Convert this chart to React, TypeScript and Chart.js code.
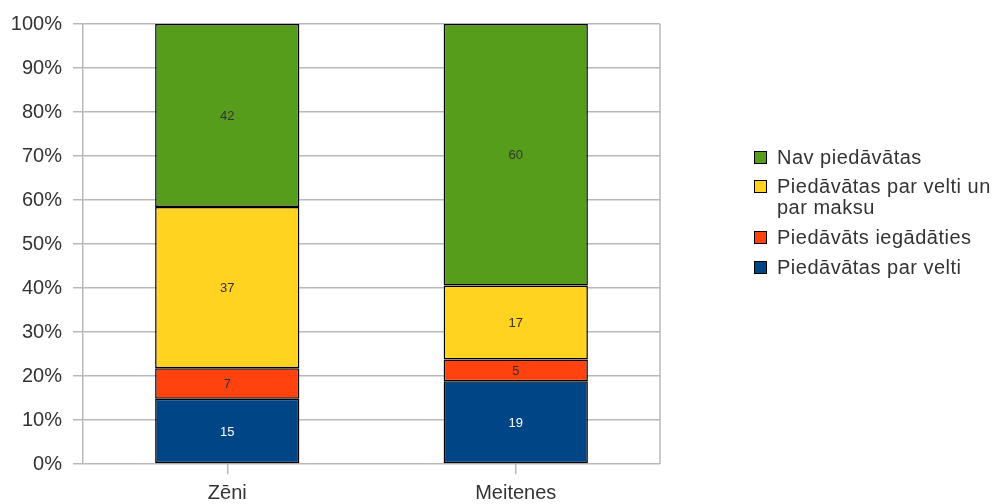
import React, { useEffect, useRef } from "react";
import { Chart, registerables } from "chart.js";

Chart.register(...registerables);

const categories = ["Zēni", "Meitenes"];
const seriesNames = ["Piedāvātas par velti", "Piedāvāts iegādāties", "Piedāvātas par velti un par maksu", "Nav piedāvātas"];
const legendLines = [["Piedāvātas par velti"], ["Piedāvāts iegādāties"], ["Piedāvātas par velti un", "par maksu"], ["Nav piedāvātas"]];
const parVelti = [15, 19];
const iegadaties = [7, 5];
const veltiUnMaksu = [37, 17];
const navPiedavatas = [42, 60];
const yTicks = [0, 10, 20, 30, 40, 50, 60, 70, 80, 90, 100];

const colors = ["#004586", "#ff420e", "#ffd320", "#579d1c"];
const labelColors = ["#ffffff", "#333333", "#333333", "#333333"];
const FONT = "'Liberation Sans', Arial, sans-serif";

export default function App() {
  const ref = useRef<HTMLCanvasElement>(null);
  useEffect(() => {
    const raw = [parVelti, iegadaties, veltiUnMaksu, navPiedavatas];
    const totals = categories.map((_, i) => raw.reduce((s, r) => s + r[i], 0));
    const datasets = raw.map((r, k) => ({
      label: seriesNames[k],
      data: r.map((v, i) => (v / totals[i]) * 100),
      raw: r,
      backgroundColor: colors[k],
      borderColor: "#000000",
      borderWidth: 1.5,
      borderSkipped: false,
      barPercentage: 0.5,
      categoryPercentage: 1,
    }));

    const plugin = {
      id: "custom",
      beforeDatasetsDraw(chart: any) {
        const { ctx, chartArea } = chart;
        ctx.save();
        ctx.strokeStyle = "#b8b8b8";
        ctx.lineWidth = 1.5;
        ctx.beginPath();
        ctx.moveTo(chartArea.right, chartArea.top);
        ctx.lineTo(chartArea.right, chartArea.bottom);
        ctx.stroke();
        ctx.restore();
      },
      afterDatasetsDraw(chart: any) {
        const { ctx } = chart;
        ctx.save();
        ctx.font = `13px ${FONT}`;
        ctx.textAlign = "center";
        ctx.textBaseline = "middle";
        chart.data.datasets.forEach((ds: any, k: number) => {
          const meta = chart.getDatasetMeta(k);
          meta.data.forEach((bar: any, i: number) => {
            ctx.fillStyle = labelColors[k];
            ctx.fillText(String(ds.raw[i]), bar.x, (bar.y + bar.base) / 2 + 1);
          });
        });
        // legend
        ctx.font = `20px ${FONT}`;
        (ctx as any).letterSpacing = "0.5px";
        ctx.textAlign = "left";
        const rows = [3, 2, 1, 0];
        const ys = [158, 187, 238, 268];
        rows.forEach((k, j) => {
          const y = ys[j];
          ctx.fillStyle = colors[k];
          ctx.fillRect(754, y - 7, 13, 13);
          ctx.strokeStyle = "#000";
          ctx.lineWidth = 1;
          ctx.strokeRect(754.5, y - 6.5, 12, 12);
          ctx.fillStyle = "#333333";
          legendLines[k].forEach((line, li) => {
            ctx.fillText(line, 777, y + li * 21);
          });
        });
        ctx.restore();
      },
    };

    const chart = new Chart(ref.current!, {
      type: "bar",
      data: { labels: categories, datasets: datasets as any },
      options: {
        animation: false,
        responsive: false,
        layout: { padding: { top: 24, right: 336, left: 0, bottom: 0 } },
        plugins: { legend: { display: false }, tooltip: { enabled: false } },
        scales: {
          x: {
            stacked: true,
            offset: true,
            grid: { display: true, drawOnChartArea: false, drawTicks: true, tickLength: 10, color: "#b8b8b8", lineWidth: 1.5, offset: false },
            border: { display: false },
            ticks: { color: "#333333", font: { family: FONT, size: 20 }, padding: 7 },
            afterFit(scale: any) { scale.height = 40; },
          },
          y: {
            stacked: true,
            min: 0,
            max: 100,
            afterBuildTicks(scale: any) { scale.ticks = yTicks.map((v) => ({ value: v })); },
            grid: { color: "#b8b8b8", lineWidth: 1.5, tickLength: 10 },
            border: { display: true, color: "#b8b8b8", width: 1.5 },
            ticks: { color: "#333333", font: { family: FONT, size: 20 }, padding: 11, callback: (v: any) => v + "%" },
            afterFit(scale: any) { scale.width = 83; },
          },
        },
      },
      plugins: [plugin],
    });
    return () => chart.destroy();
  }, []);
  return (
    <div style={{ position: "fixed", left: 0, top: 0, width: 996, height: 504, background: "#fff" }}>
      <canvas ref={ref} width={996} height={504} style={{ width: 996, height: 504 }} />
    </div>
  );
}
